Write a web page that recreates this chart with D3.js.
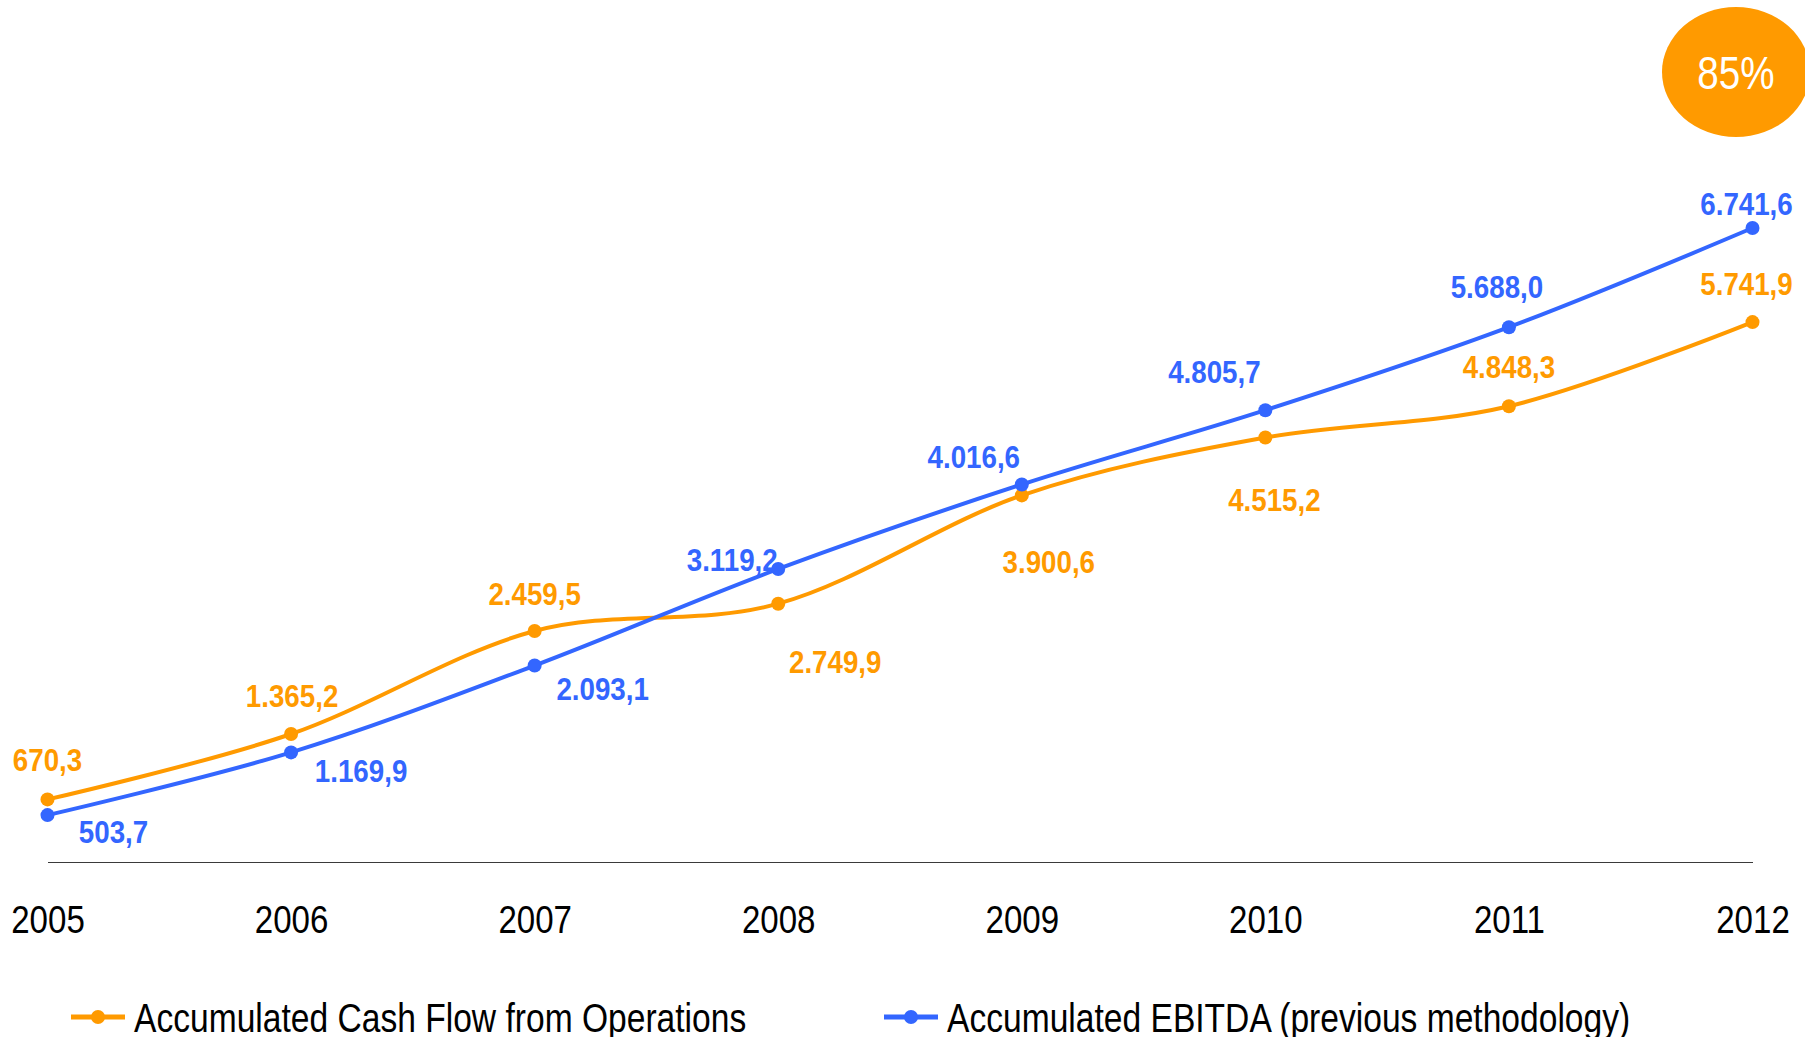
<!DOCTYPE html>
<html>
<head>
<meta charset="utf-8">
<script src="https://cdn.jsdelivr.net/npm/d3@7"></script>
<style>
  html, body { margin: 0; padding: 0; background: #ffffff; }
  svg { display: block; }
  text { font-family: "Liberation Sans", Arial, sans-serif; }
</style>
</head>
<body>
<svg id="chart" width="1805" height="1037"></svg>
<script>
// Years on the horizontal axis
const years = ["2005", "2006", "2007", "2008", "2009", "2010", "2011", "2012"];

// Accumulated Cash Flow from Operations
const cashFlow = [670.3, 1365.2, 2459.5, 2749.9, 3900.6, 4515.2, 4848.3, 5741.9];

// Accumulated EBITDA (previous methodology)
const ebitda = [503.7, 1169.9, 2093.1, 3119.2, 4016.6, 4805.7, 5688.0, 6741.6];

const seriesNames = ["Accumulated Cash Flow from Operations", "Accumulated EBITDA (previous methodology)"];
const badgeText = "85%";

// Label placement relative to each point: [dx, dy of baseline]
const cashLabelOffsets = [[0, -28], [1, -27], [0, -26], [57, 69], [27, 78], [9, 73], [0, -28], [-6, -27]];
const ebitdaLabelOffsets = [[66, 28], [70, 30], [68, 34], [-46, 2], [-48, -16], [-51, -27], [-12, -29], [-6, -13]];

const ORANGE = "#ff9a00";
const BLUE = "#3366ff";

// Number format: dot for thousands, comma for decimals
const locale = d3.formatLocale({ decimal: ",", thousands: ".", grouping: [3], currency: ["", ""] });
const fmt = locale.format(",.1f");

const svg = d3.select("#chart");

// place a text at (x, y) drawn in a condensed width
function placeNarrow(sel, fx, fy, squeeze) {
  sel.attr("x", 0).attr("y", 0)
     .attr("transform", (d, i) => `translate(${fx(d, i)},${fy(d, i)}) scale(${squeeze},1)`);
}

const x = d3.scalePoint().domain(years).range([47.5, 1752.5]);
const y = d3.scaleLinear().domain([0, 7000]).range([862.5, 203.7]);

// Baseline axis with year labels below
const xAxis = d3.axisBottom(x).tickSize(0).tickPadding(0);
const axisG = svg.append("g").attr("transform", "translate(0,862)").call(xAxis);
axisG.select(".domain").attr("stroke", "#3a3a3a").attr("stroke-width", 1.2);
axisG.selectAll(".tick text")
  .attr("font-size", 38)
  .attr("fill", "#000")
  .attr("dy", null)
  .style("font-family", "'Liberation Sans', Arial, sans-serif")
  .call(placeNarrow, () => 0, () => 71, 0.87);

const line = d3.line()
  .x((d, i) => x(years[i]))
  .y(d => y(d))
  .curve(d3.curveCardinal.tension(0));

const series = [
  { name: seriesNames[0], values: cashFlow, color: ORANGE, offsets: cashLabelOffsets },
  { name: seriesNames[1], values: ebitda, color: BLUE, offsets: ebitdaLabelOffsets }
];

series.forEach(s => {
  svg.append("path")
    .datum(s.values)
    .attr("fill", "none")
    .attr("stroke", s.color)
    .attr("stroke-width", 4)
    .attr("stroke-linejoin", "round")
    .attr("d", line);
});

series.forEach(s => {
  svg.append("g").selectAll("circle")
    .data(s.values)
    .join("circle")
    .attr("cx", (d, i) => x(years[i]))
    .attr("cy", d => y(d))
    .attr("r", 7)
    .attr("fill", s.color);

  svg.append("g").selectAll("text")
    .data(s.values)
    .join("text")
    .attr("text-anchor", "middle")
    .attr("font-size", 31.5)
    .attr("font-weight", "bold")
    .attr("fill", s.color)
    .text(d => fmt(d))
    .call(placeNarrow, (d, i) => x(years[i]) + s.offsets[i][0], (d, i) => y(d) + s.offsets[i][1], 0.88);
});

// Legend
const legendItems = [
  { name: seriesNames[0], color: ORANGE, x0: 71 },
  { name: seriesNames[1], color: BLUE, x0: 884 }
];
const lg = svg.append("g").attr("class", "legend");
legendItems.forEach(it => {
  lg.append("line")
    .attr("x1", it.x0).attr("x2", it.x0 + 54)
    .attr("y1", 1017).attr("y2", 1017)
    .attr("stroke", it.color).attr("stroke-width", 5);
  lg.append("circle")
    .attr("cx", it.x0 + 27).attr("cy", 1017).attr("r", 7)
    .attr("fill", it.color);
  lg.append("text")
    .datum(it)
    .attr("font-size", 40)
    .attr("fill", "#000")
    .text(it.name)
    .call(placeNarrow, d => d.x0 + 63, () => 1032, 0.84);
});

// Highlight badge in the top-right corner
svg.append("ellipse")
  .attr("cx", 1736).attr("cy", 72)
  .attr("rx", 74).attr("ry", 65)
  .attr("fill", ORANGE);
svg.append("text")
  .attr("text-anchor", "middle")
  .attr("font-size", 46)
  .attr("fill", "#ffffff")
  .text(badgeText)
  .call(placeNarrow, () => 1736, () => 89, 0.84);
</script>
</body>
</html>
